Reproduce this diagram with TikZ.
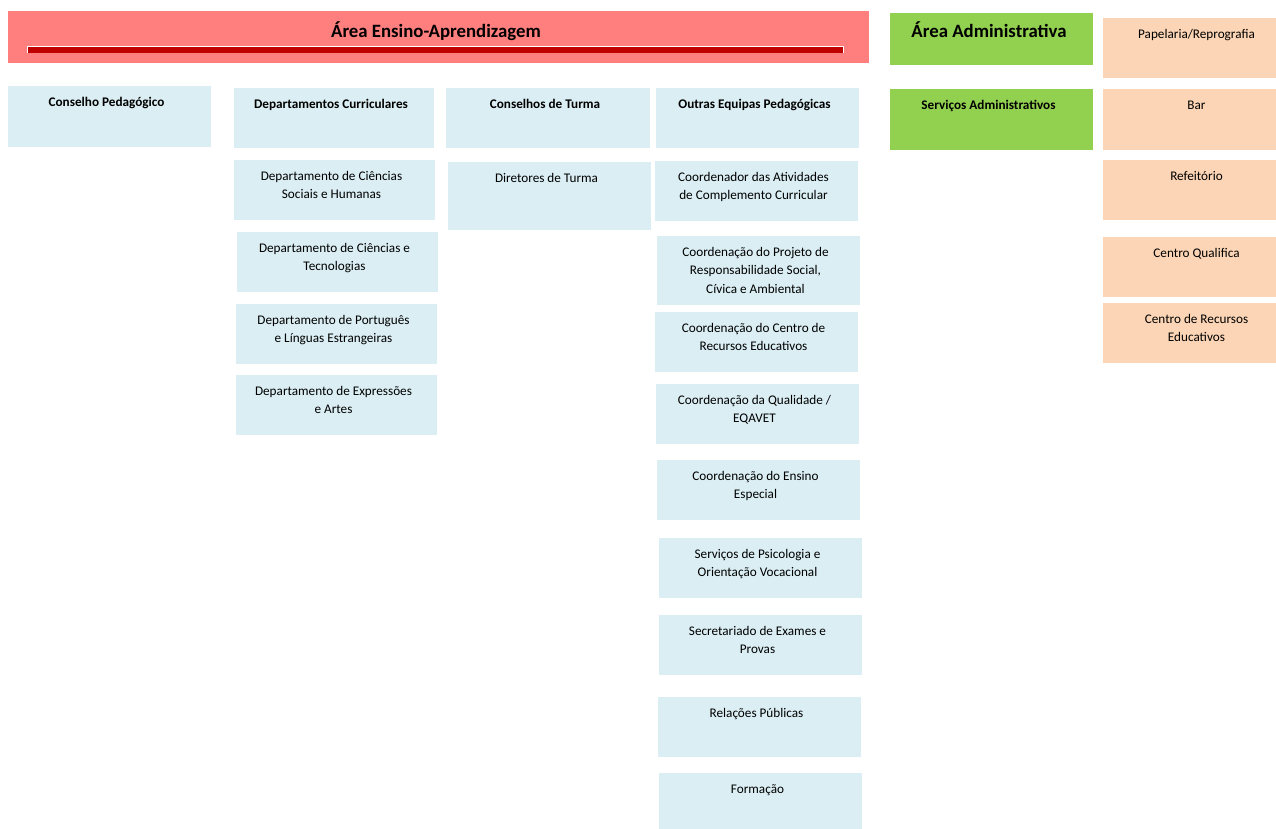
\documentclass[tikz,border=0pt]{standalone}
\usepackage{fontspec}
\setmainfont{Carlito}
\usetikzlibrary{calc}
\definecolor{cblue}{HTML}{DAEEF3}
\definecolor{cred}{HTML}{FF7F7F}
\definecolor{cdark}{HTML}{C00000}
\definecolor{cgreen}{HTML}{92D050}
\definecolor{cpeach}{HTML}{FBD5B5}
\tikzset{
  boxb/.style={fill=#1, draw=none, inner sep=0pt, outer sep=0pt},
  txt/.style={inner sep=0pt, outer sep=0pt, font=\fontsize{13.2}{18.8}\selectfont},
  btxt/.style={txt, font=\fontsize{13.2}{18.8}\selectfont\bfseries},
  htxt/.style={inner sep=0pt, outer sep=0pt, font=\fontsize{18.8}{22}\selectfont\bfseries},
}
% #1 colour, #2 name, #3 x1, #4 y1, #5 x2, #6 y2, #7 text style, #8 text
\newcommand\obox[8]{%
  \node[boxb=#1, anchor=north west, minimum width={(#5-#3)*1pt}, minimum height={(#6-#4)*1pt}] (#2) at (#3,#4) {};
  \node[#7, anchor=base] (#2t) at ($(#2.north)+(-3,20)$) {\begin{tabular}[t]{@{}c@{}}#8\end{tabular}};}
\begin{document}
\begin{tikzpicture}[x=1pt,y=-1pt]
\useasboundingbox (0,0) rectangle (1276,828);
\fill[white] (0,0) rectangle (1276,828);
% top red bar
\node[boxb=cred, anchor=north west, minimum width=861pt, minimum height=52pt] (ea) at (8,11) {};
\fill[white] (27,45.6) rectangle (843.6,52.6);
\fill[cdark] (28,47) rectangle (842.6,52.6);
\node[htxt, anchor=base] (eat) at (436,37) {Área Ensino-Aprendizagem};
% green admin
\node[boxb=cgreen, anchor=north west, minimum width=203pt, minimum height=52pt] (aa) at (890,13) {};
\node[htxt, anchor=base] (aat) at (989,37) {Área Administrativa};
% headers
\obox{cblue}{cp}{8}{86}{211}{147}{btxt}{Conselho Pedagógico}
\obox{cblue}{dc}{234}{88}{434}{148}{btxt}{Departamentos Curriculares}
\obox{cblue}{ct}{446}{88}{650}{148}{btxt}{Conselhos de Turma}
\obox{cblue}{oe}{656}{88}{859}{148}{btxt}{Outras Equipas Pedagógicas}
\obox{cgreen}{sa}{890}{89}{1093}{150}{btxt}{Serviços Administrativos}
% peach column
\obox{cpeach}{pr}{1103}{18}{1296}{78}{txt}{Papelaria/Reprografia}
\obox{cpeach}{bar}{1103}{89}{1296}{150}{txt}{Bar}
\obox{cpeach}{ref}{1103}{160}{1296}{220}{txt}{Refeitório}
\obox{cpeach}{cq}{1103}{237}{1296}{297}{txt}{Centro Qualifica}
\obox{cpeach}{cre}{1103}{303}{1296}{363}{txt}{Centro de Recursos\\Educativos}
% departamentos
\obox{cblue}{d1}{234}{160}{435}{220}{txt}{Departamento de Ciências\\Sociais e Humanas}
\obox{cblue}{d2}{237}{232}{438}{292}{txt}{Departamento de Ciências e\\Tecnologias}
\obox{cblue}{d3}{236}{304}{437}{364}{txt}{Departamento de Português\\e Línguas Estrangeiras}
\obox{cblue}{d4}{236}{375}{437}{435}{txt}{Departamento de Expressões\\e Artes}
% diretores
\obox{cblue}{dt}{448}{162}{651}{230}{txt}{Diretores de Turma}
% outras equipas
\obox{cblue}{o1}{655}{161}{858}{221}{txt}{Coordenador das Atividades\\de Complemento Curricular}
\obox{cblue}{o2}{657}{236}{860}{305}{txt}{Coordenação do Projeto de\\Responsabilidade Social,\\Cívica e Ambiental}
\obox{cblue}{o3}{655}{312}{858}{372}{txt}{Coordenação do Centro de\\Recursos Educativos}
\obox{cblue}{o4}{656}{384}{859}{444}{txt}{Coordenação da Qualidade /\\EQAVET}
\obox{cblue}{o5}{657}{460}{860}{520}{txt}{Coordenação do Ensino\\Especial}
\obox{cblue}{o6}{659}{538}{862}{598}{txt}{Serviços de Psicologia e\\Orientação Vocacional}
\obox{cblue}{o7}{659}{615}{862}{675}{txt}{Secretariado de Exames e\\Provas}
\obox{cblue}{o8}{658}{697}{861}{757}{txt}{Relações Públicas}
\obox{cblue}{o9}{659}{773}{862}{833}{txt}{Formação}
\end{tikzpicture}
\end{document}
